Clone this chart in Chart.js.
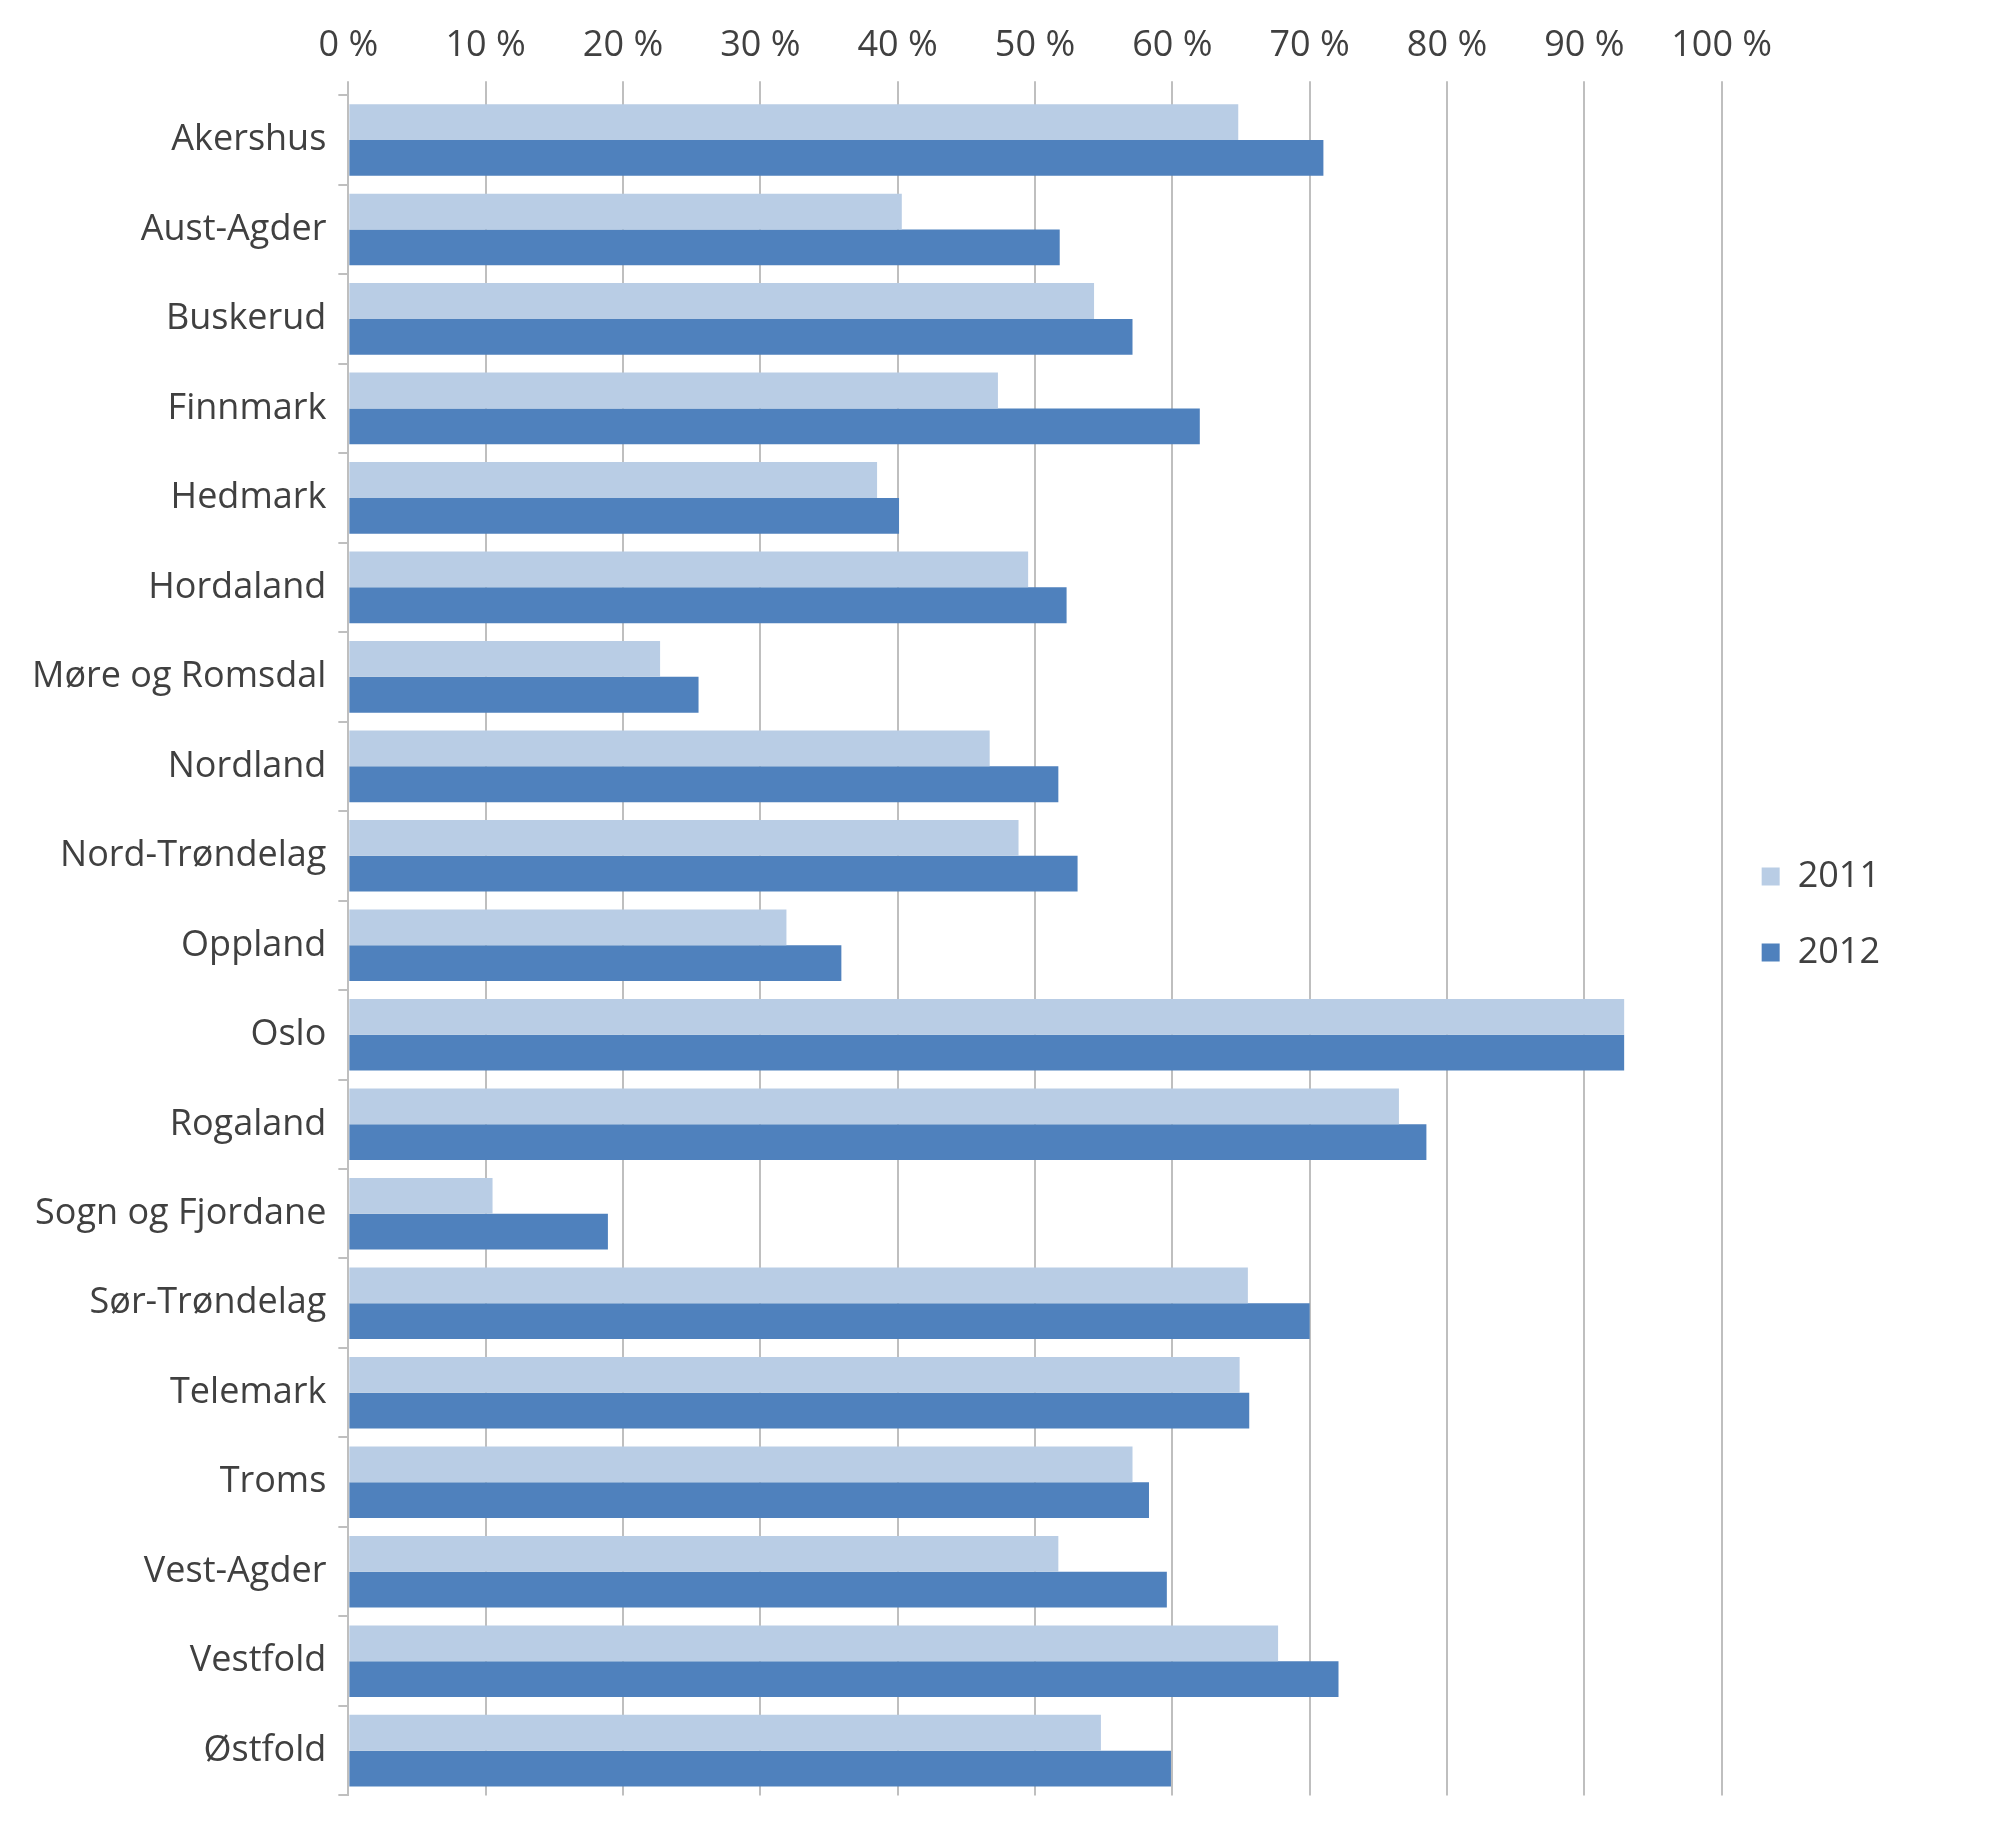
<!DOCTYPE html>
<html>
<head>
<meta charset="utf-8">
<script src="https://cdn.jsdelivr.net/npm/chart.js"></script>
<style>
  body { margin: 0; background: #fff; }
  #wrap { width: 2000px; height: 1829px; }
</style>
</head>
<body>
<div id="wrap"><canvas id="chart" width="2000" height="1829"></canvas></div>
<script>
// fylker
const counties = ["Akershus", "Aust-Agder", "Buskerud", "Finnmark", "Hedmark", "Hordaland",
    "Møre og Romsdal", "Nordland", "Nord-Trøndelag", "Oppland", "Oslo", "Rogaland",
    "Sogn og Fjordane", "Sør-Trøndelag", "Telemark", "Troms", "Vest-Agder", "Vestfold", "Østfold"];
const values2011 = [64.8, 40.3, 54.3, 47.3, 38.5, 49.5, 22.7, 46.7, 48.8, 31.9, 92.9, 76.5, 10.5, 65.5, 64.9, 57.1, 51.7, 67.7, 54.8];
const values2012 = [71.0, 51.8, 57.1, 62.0, 40.1, 52.3, 25.5, 51.7, 53.1, 35.9, 92.9, 78.5, 18.9, 70.0, 65.6, 58.3, 59.6, 72.1, 59.9];

const textColor = "#404040";
const font = { family: "'Open Sans', Calibri, sans-serif", size: 36 };

new Chart(document.getElementById("chart"), {
    type: "bar",
    data: {
        labels: counties,
        datasets: [
            { label: "2011", data: values2011, backgroundColor: "#b9cde5",
              categoryPercentage: 0.8, barPercentage: 1.0 },
            { label: "2012", data: values2012, backgroundColor: "#4f81bd",
              categoryPercentage: 0.8, barPercentage: 1.0 },
        ],
    },
    options: {
        indexAxis: "y",
        responsive: false,
        animation: false,
        layout: { padding: { left: 20, right: 110, top: 10, bottom: 10 } },
        scales: {
            x: {
                position: "top",
                min: 0,
                max: 100,
                ticks: { stepSize: 10, color: textColor, font: font, padding: 14,
                         callback: v => v + " %" },
                grid: { color: "#bfbfbf", lineWidth: 2, tickLength: 14 },
                border: { display: false },
            },
            y: {
                ticks: { color: textColor, font: font, padding: 12 },
                grid: { offset: true, drawOnChartArea: false, color: "#bfbfbf", lineWidth: 2, tickLength: 10 },
                border: { color: "#bfbfbf", width: 2 },
            },
        },
        plugins: {
            legend: {
                position: "right",
                labels: { color: textColor, font: { family: font.family, size: 36 },
                          boxWidth: 18, boxHeight: 18, padding: 40 },
            },
            tooltip: { enabled: false },
        },
    },
});
</script>
</body>
</html>
